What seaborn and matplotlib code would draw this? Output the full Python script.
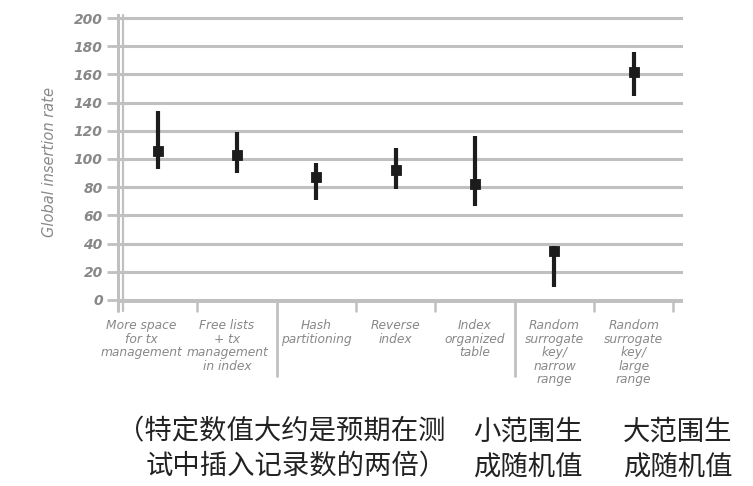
import matplotlib
matplotlib.use("Agg")
import matplotlib.pyplot as plt
import matplotlib.transforms as mtransforms
import seaborn as sns
import pandas as pd

# datos
categories = ["More space\nfor tx\nmanagement",
              "Free lists\n+ tx\nmanagement\nin index",
              "Hash\npartitioning",
              "Reverse\nindex",
              "Index\norganized\ntable",
              "Random\nsurrogate\nkey/\nnarrow\nrange",
              "Random\nsurrogate\nkey/\nlarge\nrange"]
rate_mid = [106, 103, 87, 92, 82, 35, 162]
rate_low = [93, 90, 71, 79, 67, 9, 145]
rate_high = [134, 119, 97, 108, 116, 38, 176]
y_ticks = [0, 20, 40, 60, 80, 100, 120, 140, 160, 180, 200]

note_left = ["（特定数值大约是预期在测", "试中插入记录数的两倍）"]
note_narrow = ["小范围生", "成随机值"]
note_large = ["大范围生", "成随机值"]

df = pd.DataFrame({"cat": categories, "mid": rate_mid,
                   "low": rate_low, "high": rate_high})

sns.set_style("white")
plt.rcParams['font.family'] = ['DejaVu Sans']

grey = "#c0c0c0"
text_grey = "#888888"
ink = "#1c1c1c"

fig = plt.figure(figsize=(7.53, 4.86), dpi=100)
ax = fig.add_axes([118 / 753, 0.377, 565 / 753, 0.5917])

# rangos y valores centrales
ax.vlines(range(len(df)), df["low"], df["high"], color=ink, linewidth=3.0, zorder=3)
sns.scatterplot(data=df, x="cat", y="mid", marker="s", s=58, color=ink,
                edgecolor=ink, ax=ax, zorder=4)

ax.set_xlim(-0.5, 6.62)
ax.set_ylim(-2, 202)
ax.set_yticks(y_ticks)
ax.set_yticklabels([str(v) for v in y_ticks], fontsize=10, fontweight="bold",
                   fontstyle="italic", color=text_grey)
ax.set_xticks(range(len(categories)))
ax.set_xticklabels(categories, fontsize=8.8, fontstyle="italic", color=text_grey,
                   linespacing=1.05)
ax.tick_params(axis="x", length=0, pad=12)
ax.tick_params(axis="y", length=8, width=2, color=grey, pad=3, left=True)

# las dos primeras etiquetas estan algo desplazadas a la izquierda
for lbl, dx in zip(ax.get_xticklabels()[:2], [-16, -10]):
    lbl.set_transform(lbl.get_transform() +
                      mtransforms.ScaledTranslation(dx / 100, 0, fig.dpi_scale_trans))

for v in y_ticks:
    ax.axhline(v, color=grey, linewidth=2.2, zorder=1)
ax.axhline(-1.6, color=grey, linewidth=1.4, zorder=1)

for s in ["top", "right", "bottom"]:
    ax.spines[s].set_visible(False)
ax.spines["left"].set_color(grey)
ax.spines["left"].set_linewidth(2.2)
ax.plot([0.008, 0.008], [-0.03, 1.0], transform=ax.transAxes, color=grey,
        linewidth=1.6, clip_on=False)
ax.plot([0.0, 0.0], [-0.03, 0.0], transform=ax.transAxes, color=grey,
        linewidth=2.2, clip_on=False)

# separadores del eje x
trans = mtransforms.blended_transform_factory(ax.transData, ax.transAxes)
for xb in [0.5, 2.5, 3.5, 5.5, 6.5]:
    ax.plot([xb, xb], [0.01, -0.03], transform=trans, color=grey,
            linewidth=1.8, clip_on=False)
for xb in [1.5, 4.5]:
    ax.plot([xb, xb], [0.01, -0.255], transform=trans, color=grey,
            linewidth=2.0, clip_on=False)

ax.set_xlabel("")
ax.set_ylabel("Global insertion rate", fontsize=10.5, fontstyle="italic",
              color=text_grey)
ax.yaxis.set_label_coords(-0.108, 0.49)

# notas en chino
cjk = ['Noto Sans CJK SC', 'DejaVu Sans']
for txt, xx, yy in zip(note_left, [117, 146], [432, 467]):
    fig.text(xx / 753, 1 - yy / 486, txt, ha="left", va="center",
             fontsize=19.7, family=cjk, color="#222222")
for txt, yy in zip(note_narrow, [432, 467]):
    fig.text(528 / 753, 1 - yy / 486, txt, ha="center", va="center",
             fontsize=19.7, family=cjk, color="#222222")
for txt, yy in zip(note_large, [432, 467]):
    fig.text(678 / 753, 1 - yy / 486, txt, ha="center", va="center",
             fontsize=19.7, family=cjk, color="#222222")

fig.savefig("out.png", dpi=100)
